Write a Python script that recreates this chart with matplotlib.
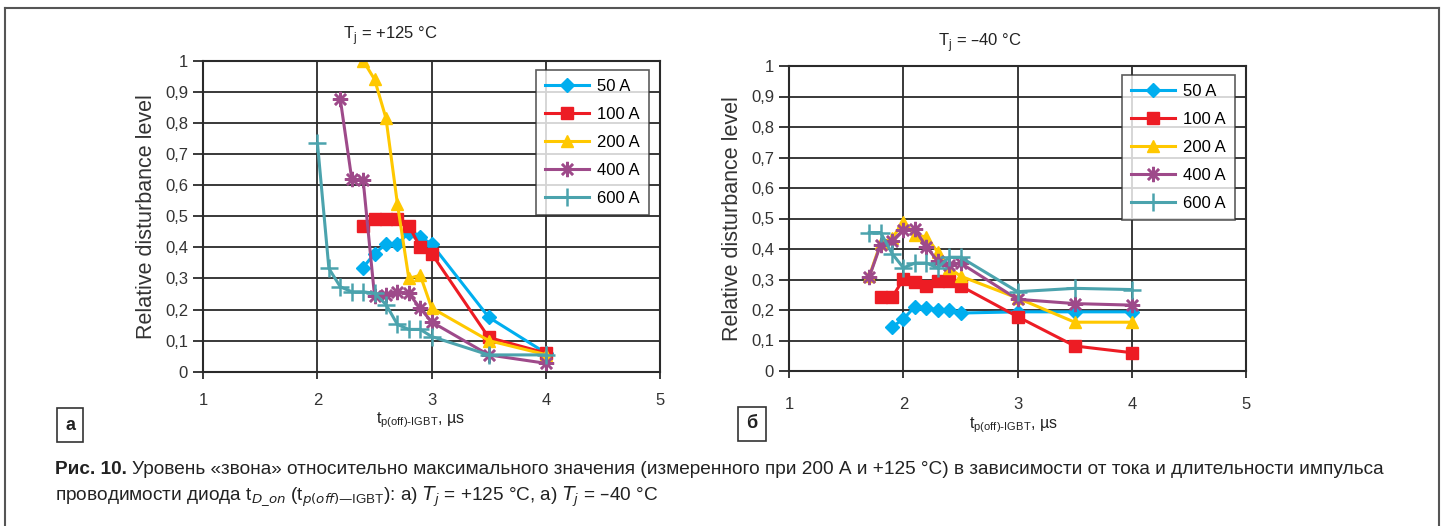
import matplotlib
matplotlib.use("Agg")
import matplotlib.pyplot as plt
from matplotlib.lines import Line2D

W, H = 1443, 526

SERIES = ["50 A", "100 A", "200 A", "400 A", "600 A"]
COLORS = ["#00AEEF", "#ED1C24", "#FFC800", "#9E4A8A", "#4BA3AD"]
MARKERS = ["D", "s", "^", (8, 2, 0), "+"]
MSIZES = [7, 9, 9, 11, 13]

Y_TICKS = [0, 0.1, 0.2, 0.3, 0.4, 0.5, 0.6, 0.7, 0.8, 0.9, 1]
Y_LABELS = ["0", "0,1", "0,2", "0,3", "0,4", "0,5", "0,6", "0,7", "0,8", "0,9", "1"]
X_TICKS = [1, 2, 3, 4, 5]

# panel a, Tj = +125 °C
x_a_50 = [2.4, 2.5, 2.6, 2.7, 2.8, 2.9, 3.0, 3.5, 4.0]
y_a_50 = [0.335, 0.38, 0.41, 0.41, 0.447, 0.434, 0.41, 0.175, 0.06]
x_a_100 = [2.4, 2.5, 2.6, 2.7, 2.8, 2.9, 3.0, 3.5, 4.0]
y_a_100 = [0.47, 0.49, 0.49, 0.49, 0.47, 0.40, 0.38, 0.11, 0.06]
x_a_200 = [2.4, 2.5, 2.6, 2.7, 2.8, 2.9, 3.0, 3.5, 4.0]
y_a_200 = [1.0, 0.94, 0.815, 0.54, 0.30, 0.31, 0.205, 0.10, 0.055]
x_a_400 = [2.2, 2.3, 2.4, 2.5, 2.6, 2.7, 2.8, 2.9, 3.0, 3.5, 4.0]
y_a_400 = [0.876, 0.62, 0.616, 0.243, 0.246, 0.257, 0.252, 0.204, 0.16, 0.054, 0.027]
x_a_600 = [2.0, 2.1, 2.2, 2.3, 2.4, 2.5, 2.6, 2.7, 2.8, 2.9, 3.0, 3.5, 4.0]
y_a_600 = [0.734, 0.332, 0.273, 0.257, 0.257, 0.252, 0.216, 0.152, 0.136, 0.136,
           0.113, 0.054, 0.054]

# panel б, Tj = -40 °C
x_b_50 = [1.9, 2.0, 2.1, 2.2, 2.3, 2.4, 2.5, 3.0, 3.5, 4.0]
y_b_50 = [0.144, 0.171, 0.211, 0.208, 0.2, 0.2, 0.19, 0.194, 0.194, 0.194]
x_b_100 = [1.8, 1.9, 2.0, 2.1, 2.2, 2.3, 2.4, 2.5, 3.0, 3.5, 4.0]
y_b_100 = [0.241, 0.241, 0.302, 0.293, 0.279, 0.295, 0.295, 0.279, 0.178, 0.082, 0.06]
x_b_200 = [1.7, 1.8, 1.9, 2.0, 2.1, 2.2, 2.3, 2.4, 2.5, 3.0, 3.5, 4.0]
y_b_200 = [0.31, 0.42, 0.435, 0.49, 0.446, 0.44, 0.39, 0.338, 0.311, 0.239, 0.16, 0.16]
x_b_400 = [1.7, 1.8, 1.9, 2.0, 2.1, 2.2, 2.3, 2.4, 2.5, 3.0, 3.5, 4.0]
y_b_400 = [0.308, 0.414, 0.427, 0.462, 0.464, 0.408, 0.36, 0.349, 0.354, 0.235, 0.221, 0.216]
x_b_600 = [1.7, 1.8, 1.9, 2.0, 2.1, 2.2, 2.3, 2.4, 2.5, 3.0, 3.5, 4.0]
y_b_600 = [0.454, 0.454, 0.385, 0.338, 0.354, 0.354, 0.338, 0.373, 0.373, 0.26, 0.271, 0.267]

plt.rcParams["font.family"] = ["Liberation Sans", "DejaVu Sans"]

fig = plt.figure(figsize=(W / 100, H / 100), dpi=100)


def px_box(left, top, right, bottom):
    return [left / W, 1 - bottom / H, (right - left) / W, (bottom - top) / H]


def draw_panel(ax, data, legend_box, xtick_pad):
    for (xs, ys), name, c, m, ms in zip(data, SERIES, COLORS, MARKERS, MSIZES):
        ax.plot(xs, ys, color=c, lw=2.2, marker=m, ms=ms, mec=c, mfc=c,
                mew=1.8 if m in ("+", (8, 2, 0)) else 1, label=name)
    ax.set_xlim(1, 5)
    ax.set_ylim(0, 1)
    ax.set_xticks(X_TICKS)
    ax.set_yticks(Y_TICKS)
    ax.set_yticklabels(Y_LABELS)
    ax.grid(True, color="#2a2a2a", lw=1.3)
    ax.set_axisbelow(True)
    for s in ax.spines.values():
        s.set_color("#2a2a2a")
        s.set_linewidth(1.5)
    ax.tick_params(axis="y", length=7, width=1.3, color="#2a2a2a", labelsize=12,
                   pad=4, labelcolor="#333333")
    ax.tick_params(axis="x", length=5, width=1.3, color="#2a2a2a", labelsize=12,
                   pad=xtick_pad, labelcolor="#333333")
    ax.set_ylabel("Relative disturbance level", fontsize=15.5, color="#333333", labelpad=6)
    leg = ax.legend(loc="upper left", bbox_to_anchor=legend_box,
                    bbox_transform=fig.transFigure, fontsize=12, frameon=True,
                    fancybox=False, edgecolor="#333333", handlelength=2.6,
                    labelspacing=0.78, borderpad=0.55, handletextpad=0.5,
                    borderaxespad=0)
    leg.get_frame().set_linewidth(1.2)


ax_a = fig.add_axes(px_box(203.3, 60.7, 660, 371.7))
draw_panel(ax_a, [(x_a_50, y_a_50), (x_a_100, y_a_100), (x_a_200, y_a_200),
                  (x_a_400, y_a_400), (x_a_600, y_a_600)],
           (536 / W, 1 - 70 / H), 10)

ax_b = fig.add_axes(px_box(789.3, 66, 1246, 371))
draw_panel(ax_b, [(x_b_50, y_b_50), (x_b_100, y_b_100), (x_b_200, y_b_200),
                  (x_b_400, y_b_400), (x_b_600, y_b_600)],
           (1122 / W, 1 - 75 / H), 14)

# titles and axis labels
fig.text(390 / W, 1 - 36 / H, r"T$_{\mathregular{j}}$ = +125 °C", ha="center",
         va="center", fontsize=12, color="#222222")
fig.text(980 / W, 1 - 43 / H, r"T$_{\mathregular{j}}$ = –40 °C", ha="center",
         va="center", fontsize=12, color="#222222")
xlab = r"t$_{\mathregular{p(off)\text{-}IGBT}}$, µs"
fig.text(420 / W, 1 - 420 / H, xlab, ha="center", va="center", fontsize=11.5,
         color="#222222")
fig.text(1013 / W, 1 - 425 / H, xlab, ha="center", va="center", fontsize=11.5,
         color="#222222")

# panel letters in boxes
for lx, ly, letter in [(70, 425, "а"), (752, 424, "б")]:
    fig.text(lx / W, 1 - ly / H, letter, ha="center", va="center", fontsize=13,
             fontweight="bold", color="#222222",
             bbox=dict(boxstyle="square,pad=0.45", fc="white", ec="#333333", lw=1.2))

# caption, sized so the first line ends where the reference does
cap_text = ("Уровень «звона» относительно максимального значения (измеренного при 200 А и "
            "+125 °C) в зависимости от тока и длительности импульса")
cap_size = 14
r = fig.canvas.get_renderer()
bold = fig.text(55 / W, 1 - 470 / H, "Рис. 10.", ha="left", va="center",
                fontsize=cap_size, fontweight="bold", color="#222222")
line1 = fig.text(0, 1 - 470 / H, cap_text, ha="left", va="center", fontsize=cap_size,
                 color="#222222")
total = (bold.get_window_extent(r).width + 6 + line1.get_window_extent(r).width)
cap_size = cap_size * (1395 - 55) / total
bold.set_fontsize(cap_size)
line1.set_fontsize(cap_size)
bw = bold.get_window_extent(r).width
line1.set_x((55 + bw + 5) / W)
fig.text(55 / W, 1 - 496 / H,
         r"проводимости диода t$_{\mathit{D\_on}}$ (t$_{\mathit{p(off)}\mathregular{—IGBT}}$): "
         r"а) $\mathit{T_j}$ = +125 °C, а) $\mathit{T_j}$ = –40 °C",
         ha="left", va="center", fontsize=cap_size, color="#222222")

# outer frame, open at the bottom
frame_kw = dict(color="#555555", lw=1.5, transform=fig.transFigure)
fig.add_artist(Line2D([5 / W, 5 / W], [0, 1 - 8 / H], **frame_kw))
fig.add_artist(Line2D([5 / W, 1439 / W], [1 - 8 / H, 1 - 8 / H], **frame_kw))
fig.add_artist(Line2D([1439 / W, 1439 / W], [0, 1 - 8 / H], **frame_kw))

fig.savefig("out.png", dpi=100)
